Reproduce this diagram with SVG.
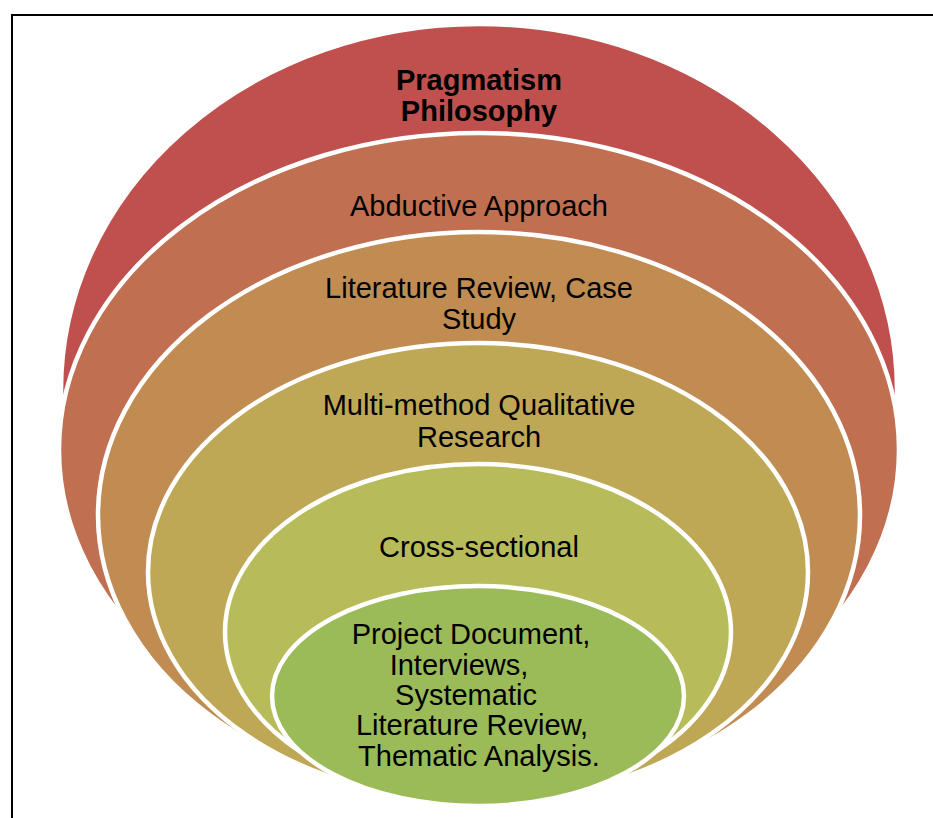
<svg xmlns="http://www.w3.org/2000/svg" width="933" height="818" viewBox="0 0 933 818">
<style>
.layer ellipse{stroke:#ffffff;stroke-width:4.5}
text{font-family:"Liberation Sans",Arial,sans-serif;font-size:29px;fill:#000000;text-anchor:middle}
.b{font-weight:bold}
</style>
<rect width="933" height="818" fill="#ffffff"/>
<path d="M12,818 V15 H933" fill="none" stroke="#000000" stroke-width="2"/>
<g id="layer1" class="layer">
<ellipse cx="479" cy="390" rx="418" ry="366" fill="#C0504D"/>
<text class="b" x="479" y="90">Pragmatism</text>
<text class="b" x="479" y="121">Philosophy</text>
</g>
<g id="layer2" class="layer">
<ellipse cx="479" cy="450" rx="420" ry="317" fill="#C06F50"/>
<text x="479" y="216">Abductive Approach</text>
</g>
<g id="layer3" class="layer">
<ellipse cx="479" cy="515" rx="381" ry="283" fill="#C08C52"/>
<text x="479" y="298">Literature Review, Case</text>
<text x="479" y="329">Study</text>
</g>
<g id="layer4" class="layer">
<ellipse cx="478" cy="572" rx="330" ry="229" fill="#BFA855"/>
<text x="479" y="415">Multi-method Qualitative</text>
<text x="479" y="447">Research</text>
</g>
<g id="layer5" class="layer">
<ellipse cx="478" cy="632" rx="253" ry="168" fill="#B8BB5A"/>
<text x="479" y="557">Cross-sectional</text>
</g>
<g id="layer6" class="layer">
<ellipse cx="478" cy="696" rx="206" ry="110" fill="#9BBB59"/>
<text x="471" y="644">Project Document,</text>
<text x="459" y="675">Interviews,</text>
<text x="466" y="705">Systematic</text>
<text x="472" y="735">Literature Review,</text>
<text x="479" y="766">Thematic Analysis.</text>
</g>
<g id="connectors"/>
</svg>
